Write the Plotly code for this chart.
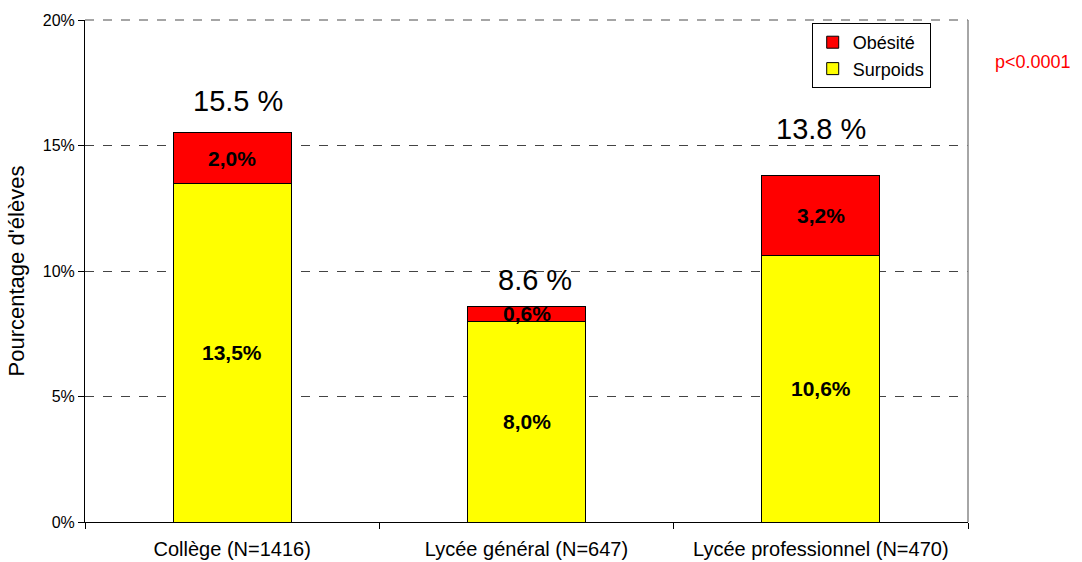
import plotly.graph_objects as go

categories = ["Collège (N=1416)", "Lycée général (N=647)", "Lycée professionnel (N=470)"]
surpoids = [13.5, 8.0, 10.6]
obesite = [2.0, 0.6, 3.2]
surpoids_labels = ["13,5%", "8,0%", "10,6%"]
obesite_labels = ["2,0%", "0,6%", "3,2%"]
total_labels = ["15.5 %", "8.6 %", "13.8 %"]
y_ticks = [0, 5, 10, 15, 20]
y_tick_labels = ["0%", "5%", "10%", "15%", "20%"]

# style-only offsets (pixels) for the total labels
total_yshift = [32, 26, 47]
total_xshift = [6, 8, 0]

FONT = "Liberation Sans, Arial, sans-serif"

fig = go.Figure()
fig.add_trace(go.Bar(
    name="Surpoids", x=categories, y=surpoids,
    marker=dict(color="#FFFF00", line=dict(color="black", width=1)),
))
fig.add_trace(go.Bar(
    name="Obésité", x=categories, y=obesite,
    marker=dict(color="#FF0000", line=dict(color="black", width=1)),
))

annotations = []
for i, c in enumerate(categories):
    annotations.append(dict(x=c, y=surpoids[i] / 2, text=surpoids_labels[i], showarrow=False,
                            font=dict(size=21, color="black", family=FONT, weight="bold")))
    annotations.append(dict(x=c, y=surpoids[i] + obesite[i] / 2, text=obesite_labels[i], showarrow=False,
                            font=dict(size=21, color="black", family=FONT, weight="bold")))
    annotations.append(dict(x=c, y=surpoids[i] + obesite[i], text=total_labels[i], showarrow=False,
                            yshift=total_yshift[i], xshift=total_xshift[i],
                            font=dict(size=29, color="black", family=FONT)))
annotations.append(dict(xref="paper", yref="paper", x=1.0285, y=0.916,
                        xanchor="left", yanchor="middle",
                        text="p<0.0001", showarrow=False,
                        font=dict(size=18, color="#FF0000", family=FONT)))

fig.update_layout(
    barmode="stack",
    bargap=0.6,
    width=1082, height=562,
    margin=dict(l=85, r=114, t=20, b=40, autoexpand=False),
    paper_bgcolor="white", plot_bgcolor="white",
    font=dict(family=FONT, color="black", size=20),
    annotations=annotations,
    legend=dict(x=0.823, y=0.994, xanchor="left", yanchor="top",
                traceorder="reversed", bgcolor="white",
                bordercolor="black", borderwidth=1,
                font=dict(size=18, family=FONT), itemwidth=30,
                tracegroupgap=0),
    shapes=[
        dict(type="line", xref="x domain", yref="y domain", x0=1, x1=1, y0=0, y1=1,
             line=dict(color="#888888", width=1.5)),
        dict(type="line", xref="x domain", yref="y domain", x0=0, x1=1, y0=1, y1=1,
             line=dict(color="#888888", width=1.5, dash="dash")),
    ],
)
fig.update_xaxes(
    automargin=False,
    showline=True, linecolor="black", linewidth=1,
    tickson="boundaries", ticks="outside", ticklen=6, tickcolor="black",
    tickfont=dict(size=20, family=FONT), ticklabelstandoff=9,
    showgrid=False,
)
fig.update_yaxes(
    automargin=False,
    range=[0, 20], tickmode="array", tickvals=y_ticks, ticktext=y_tick_labels,
    showline=True, linecolor="black", linewidth=1,
    ticks="outside", ticklen=6, tickcolor="black",
    tickfont=dict(size=16, family=FONT),
    showgrid=True, gridcolor="#444444", griddash="dash", gridwidth=1,
    zeroline=False,
    title=dict(text="Pourcentage d'élèves", font=dict(size=22, family=FONT), standoff=12),
)

fig.write_html("out.html", config={"displayModeBar": False},
               post_script="document.body.style.margin='0';")
